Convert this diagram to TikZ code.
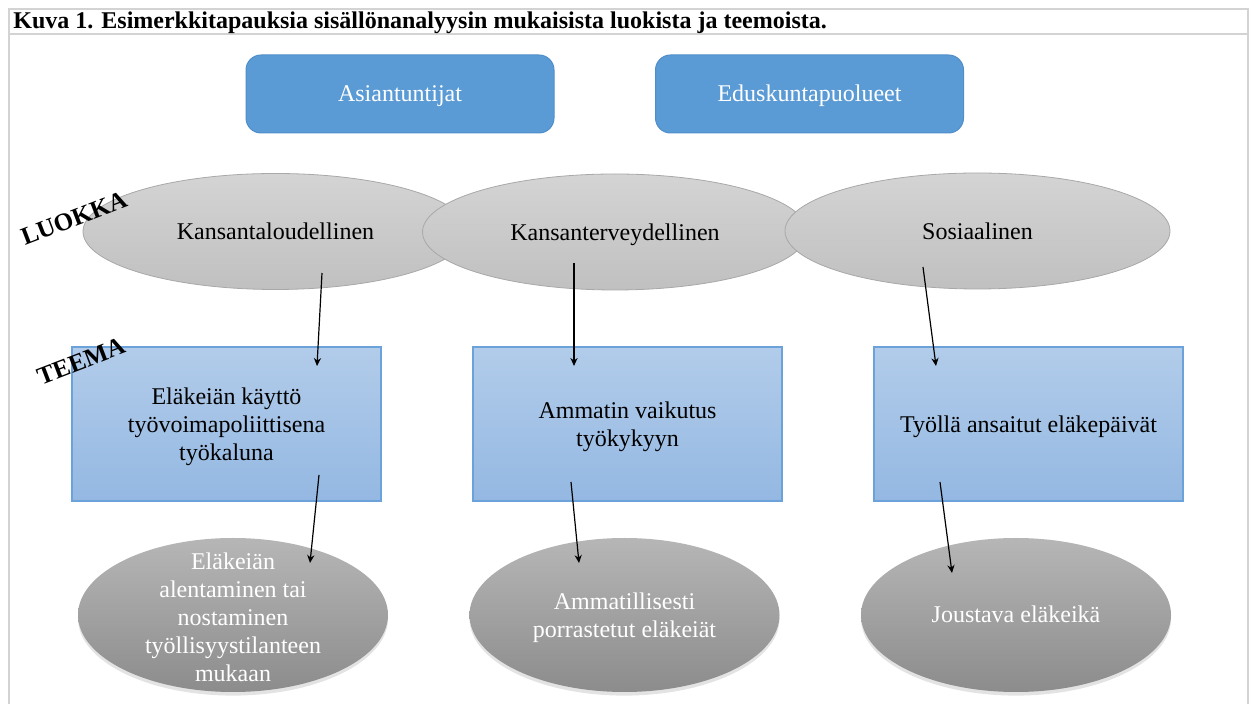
\documentclass[tikz,border=0pt]{standalone}
\usepackage{fontspec}
\setmainfont{Liberation Serif}
\usetikzlibrary{shapes.geometric,arrows.meta,shadows}
\definecolor{framegray}{HTML}{D3D3D3}
\definecolor{darkblue}{HTML}{5B9BD5}
\definecolor{darkblueedge}{HTML}{4F8ECB}
\definecolor{lbtop}{HTML}{B2CCEA}
\definecolor{lbbot}{HTML}{94B8E2}
\definecolor{lbedge}{HTML}{6CA2DA}
\definecolor{gtop}{HTML}{D4D4D4}
\definecolor{gbot}{HTML}{C0C0C0}
\definecolor{gedge}{HTML}{A8A8A8}
\definecolor{dgtop}{HTML}{B6B6B6}
\definecolor{dgbot}{HTML}{8C8C8C}
\begin{document}
\begin{tikzpicture}[x=0.5pt,y=-0.5pt,
  font=\fontsize{12}{14}\selectfont,
  framebox/.style={draw=framegray,line width=1pt},
  groupbox/.style={rectangle,rounded corners=7.5pt,fill=darkblue,draw=darkblueedge,line width=0.5pt,
    minimum width=154pt,minimum height=39pt,inner sep=0pt,text=white,
    text height=10pt,text depth=2pt},
  classell/.style={ellipse,top color=gtop,bottom color=gbot,draw=gedge,line width=0.4pt,
    minimum width=192.5pt,minimum height=58pt,inner sep=0pt,
    text height=10.5pt,text depth=2pt},
  themebox/.style={rectangle,top color=lbtop,bottom color=lbbot,draw=lbedge,line width=0.6pt,
    minimum width=154.5pt,minimum height=77pt,inner sep=0pt},
  themetext/.style={align=center,inner sep=0pt,yshift=-1.5pt},
  caseell/.style={ellipse,top color=dgtop,bottom color=dgbot,
    drop shadow={opacity=0.22,shadow xshift=0pt,shadow yshift=-1.8pt},
    minimum width=155pt,minimum height=77pt,inner sep=0pt},
  casetext/.style={align=center,inner sep=0pt,text=white},
  conn/.style={-{Stealth[length=4pt,width=3.6pt]},line width=0.6pt,black},
  sidelabel/.style={font=\fontsize{12.5}{14}\selectfont\bfseries,rotate=21,inner sep=0pt}
]
\useasboundingbox (0,0) rectangle (1253,704);
% frame
\draw[framebox] (9,704) -- (9,9) -- (1248,9) -- (1248,704);
\draw[framebox] (9,34) -- (1248,34);
\node[anchor=base west,inner sep=0pt,font=\fontsize{12}{14}\selectfont\bfseries] (title) at (13,29)
  {Kuva 1. Esimerkkitapauksia sisällönanalyysin mukaisista luokista ja teemoista.};
% groups
\node[groupbox] (asi) at (400,94) {Asiantuntijat};
\node[groupbox] (edu) at (809.5,94) {Eduskuntapuolueet};
% classes
\node[classell] (k1) at (275.5,231.5) {Kansantaloudellinen};
\node[classell] (k2) at (615,232) {Kansanterveydellinen};
\node[classell] (k3) at (977.5,231) {Sosiaalinen};
% themes
\node[themebox] (t1) at (226.5,424) {};
\node[themetext] (t1t) at (t1) {Eläkeiän käyttö\\työvoimapoliittisena\\työkaluna};
\node[themebox] (t2) at (627.5,424) {};
\node[themetext] (t2t) at (t2) {Ammatin vaikutus\\työkykyyn};
\node[themebox] (t3) at (1028.5,424) {};
\node[themetext] (t3t) at (t3) {Työllä ansaitut eläkepäivät};
% cases
\node[caseell] (c1) at (233,615) {};
\node[casetext,yshift=-1pt] (c1t) at (c1) {Eläkeiän\\alentaminen tai\\nostaminen\\työllisyystilanteen\\mukaan};
\node[caseell] (c2) at (624.5,615) {};
\node[casetext,yshift=-1.5pt] (c2t) at (c2) {Ammatillisesti\\porrastetut eläkeiät};
\node[caseell] (c3) at (1016,615) {};
\node[casetext,text height=10pt,text depth=2pt] (c3t) at (c3) {Joustava eläkeikä};
% connector ends
\coordinate (a1s) at (322,273); \coordinate (a1e) at (317,366);
\coordinate (a2s) at (574,263); \coordinate (a2e) at (574,366);
\coordinate (a3s) at (923,267); \coordinate (a3e) at (936,366);
\coordinate (b1s) at (319,475); \coordinate (b1e) at (310,563);
\coordinate (b2s) at (571,482); \coordinate (b2e) at (579,563);
\coordinate (b3s) at (940,482); \coordinate (b3e) at (952,573);
\draw[conn] (a1s) -- (a1e);
\draw[conn] (a2s) -- (a2e);
\draw[conn] (a3s) -- (a3e);
\draw[conn] (b1s) -- (b1e);
\draw[conn] (b2s) -- (b2e);
\draw[conn] (b3s) -- (b3e);
% side labels
\node[sidelabel] (luokka) at (74,218) {LUOKKA};
\node[sidelabel] (teema) at (81,361) {TEEMA};
\end{tikzpicture}
\end{document}
